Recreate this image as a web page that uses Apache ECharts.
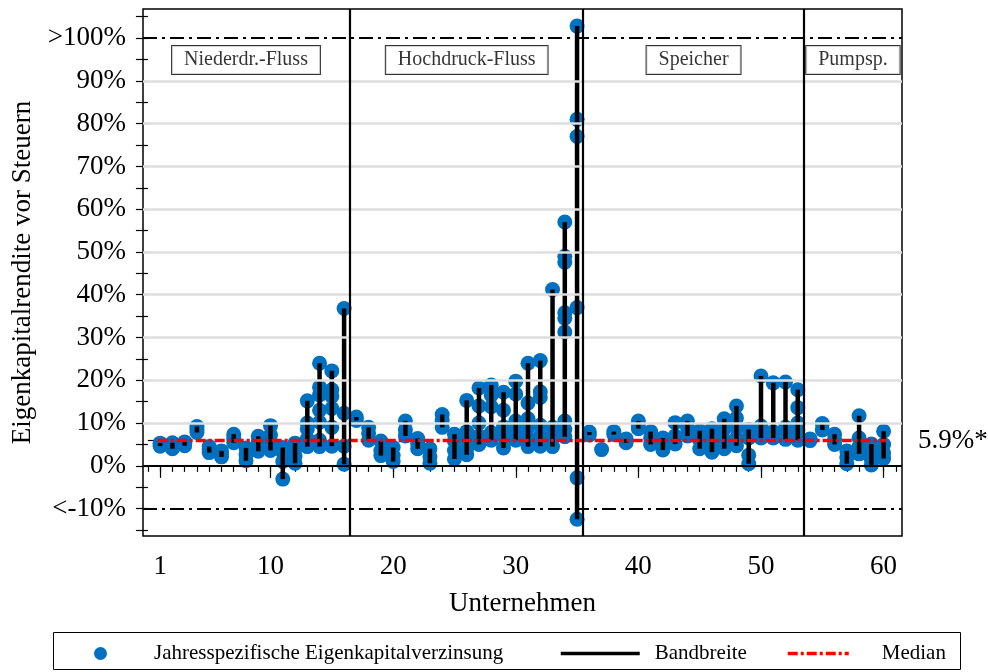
<!DOCTYPE html>
<html>
<head>
<meta charset="utf-8">
<script src="https://cdn.jsdelivr.net/npm/echarts@6/dist/echarts.min.js"></script>
<style>
  html, body { margin: 0; padding: 0; background: #fff; }
  #chart { width: 988px; height: 672px; }
</style>
</head>
<body>
<div id="chart"></div>
<script>
const FONT = '"Liberation Serif", "Times New Roman", serif';

// Yearly return on equity before tax (%) per company, company n = index + 1.
// Values outside the axis limits are given at the clipped position (>100% / <-10%).
const returns = [
  [4.6, 5.0, 5.3], [4.0, 4.7, 5.4], [4.7, 5.2, 5.6], [7.8, 8.5, 9.2], [3.1, 3.8, 4.5],
  [2.1, 2.8, 3.5], [5.4, 6.4, 7.4], [1.2, 2.6, 4.2], [3.4, 4.6, 5.8, 6.9], [3.6, 5.2, 7.2, 9.4],
  [-3.1, 1.0, 3.2, 4.3], [0.6, 2.3, 4.0, 5.3], [4.5, 6.3, 8.6, 10.0, 15.2],
  [4.5, 6.0, 10.2, 13.0, 16.6, 18.4, 24.0], [4.6, 9.0, 13.4, 16.2, 17.8, 22.2], [0.4, 4.6, 12.3, 36.8],
  [10.6, 11.4], [6.0, 7.6, 9.0], [2.4, 3.6, 5.8], [1.0, 2.4, 4.3],
  [7.0, 8.4, 10.5], [4.0, 5.2, 6.4], [0.6, 2.1, 4.0], [9.0, 10.6, 12.0], [1.6, 3.6, 5.8, 7.4],
  [2.6, 4.0, 6.6, 8.0, 15.3], [5.0, 7.0, 10.0, 14.0, 18.2], [6.0, 7.8, 13.8, 16.5, 18.9],
  [4.2, 7.0, 9.1, 13.0, 17.2], [6.0, 8.0, 10.5, 16.8, 19.8],
  [4.5, 6.5, 9.0, 11.0, 14.7, 24.0], [4.6, 7.0, 9.5, 16.0, 17.3, 24.6], [4.5, 7.0, 9.0, 41.2],
  [6.8, 8.5, 10.5, 31.3, 34.5, 35.8, 47.6, 49.0, 57.0], [-12.5, -2.8, 37.0, 77.0, 81.0, 102.8],
  [7.2, 7.9], [3.8], [7.3, 8.0], [5.4, 6.3], [8.7, 9.6, 10.5],
  [5.0, 6.5, 8.0], [3.7, 5.0, 6.5], [5.1, 7.0, 10.1], [7.0, 9.0, 10.5], [4.0, 6.0, 8.2],
  [3.2, 5.0, 7.0, 8.7], [4.0, 6.0, 8.6, 11.0], [4.7, 6.5, 9.0, 11.2, 14.0], [0.5, 2.5, 6.5, 8.5],
  [6.5, 8.0, 9.3, 21.0], [6.5, 8.0, 19.4], [6.2, 8.0, 9.0, 19.6], [6.0, 8.4, 10.0, 13.6, 17.8],
  [5.9, 6.3], [8.4, 9.9], [5.0, 6.2, 7.4], [0.5, 2.0, 3.5], [2.8, 4.5, 6.5, 11.7],
  [0.2, 1.5, 4.0, 5.1], [1.7, 3.0, 5.0, 8.1]
];

const groupNames = ['Niederdr.-Fluss', 'Hochdruck-Fluss', 'Speicher', 'Pumpsp.'];
const groupBounds = [16.5, 35.5, 53.5];
const groupCenters = [8, 26, 44.5, 57.5];
const GROUP_LABEL_Y = 94.9;
const MEDIAN = 5.9;
const medianSpan = [0.8, 60.2];

const xLabelTicks = [1, 10, 20, 30, 40, 50, 60];
const xMinorTicks = Array.from({ length: 62 }, (_, i) => i);
const yLabelTicks = [-10, 0, 10, 20, 30, 40, 50, 60, 70, 80, 90, 100];
const yMinorTicks = [-15, -10, -5, 0, 5, 10, 15, 20, 25, 30, 35, 40, 45, 50, 55, 60, 65, 70, 75, 80, 85, 90, 95, 100, 105];
const gridValues = [10, 20, 30, 40, 50, 60, 70, 80, 90];
const limitValues = [-10, 100];

const X_MIN = -0.4, X_MAX = 61.5;
const Y_MIN = -16.4, Y_MAX = 106.8;

const NAME_POINTS = 'Jahresspezifische Eigenkapitalverzinsung';
const DASH_DOT = [14, 5, 3, 5];
const RED_DASH = [10, 3, 3, 3];

// Build series data
const pointData = [];
const rangeData = [];
returns.forEach((vals, i) => {
  vals.forEach(v => pointData.push([i + 1, v]));
  rangeData.push([i + 1, Math.min(...vals), Math.max(...vals)]);
});

const refLines = [];
gridValues.forEach(v => refLines.push({ yAxis: v, lineStyle: { color: '#dedede', width: 2.5, type: 'solid' } }));
limitValues.forEach(v => refLines.push({ yAxis: v, lineStyle: { color: '#000', width: 2.2, type: DASH_DOT } }));
refLines.push({ yAxis: 0, lineStyle: { color: '#000', width: 2.2, type: 'solid' } });
groupBounds.forEach(v => refLines.push({ xAxis: v, lineStyle: { color: '#000', width: 2.2, type: 'solid' } }));

const axisText = { fontFamily: FONT, fontSize: 27, color: '#000' };
const legendText = { fontFamily: FONT, fontSize: 21, color: '#000' };

const chart = echarts.init(document.getElementById('chart'));
chart.setOption({
  animation: false,
  backgroundColor: '#fff',
  textStyle: { fontFamily: FONT },
  grid: {
    left: 143, right: 86, top: 9, bottom: 136,
    outerBoundsMode: 'none', containLabel: false,
    show: true, borderColor: '#000', borderWidth: 1.5, backgroundColor: 'transparent'
  },
  xAxis: [
    {
      type: 'value', min: X_MIN, max: X_MAX, position: 'bottom',
      name: 'Unternehmen', nameLocation: 'middle', nameGap: 54,
      nameTextStyle: axisText,
      axisLine: { show: false },
      axisTick: { show: true, customValues: xLabelTicks, length: 12, lineStyle: { color: '#000', width: 1.2 } },
      axisLabel: { customValues: xLabelTicks, margin: 17, ...axisText },
      splitLine: { show: false }
    },
    {
      type: 'value', min: X_MIN, max: X_MAX, position: 'bottom',
      axisLine: { show: false },
      axisTick: { show: true, customValues: xMinorTicks, length: 6, lineStyle: { color: '#000', width: 1.2 } },
      axisLabel: { show: false },
      splitLine: { show: false }
    }
  ],
  yAxis: [
    {
      type: 'value', min: Y_MIN, max: Y_MAX, position: 'left',
      name: 'Eigenkapitalrendite vor Steuern', nameLocation: 'middle', nameGap: 106,
      nameTextStyle: axisText,
      axisLine: { show: false },
      axisTick: { show: true, customValues: yMinorTicks, length: 12, lineStyle: { color: '#000', width: 1.2 } },
      axisLabel: {
        customValues: yLabelTicks, margin: 17, ...axisText,
        formatter: v => (v >= 100 ? '>100%' : v <= -10 ? '<-10%' : v + '%')
      },
      splitLine: { show: false }
    },
    {
      type: 'value', min: Y_MIN, max: Y_MAX, position: 'right',
      axisLine: { show: false },
      axisTick: { show: true, customValues: [MEDIAN], length: 10, lineStyle: { color: '#000', width: 1.2 } },
      axisLabel: { customValues: [MEDIAN], margin: 16, ...axisText, formatter: v => v.toFixed(1) + '%*' },
      splitLine: { show: false }
    }
  ],
  legend: [
    {
      data: [{ name: NAME_POINTS, icon: 'circle' }],
      left: 94, top: 643, padding: 0, itemWidth: 13, itemHeight: 13,
      textStyle: { ...legendText, padding: [0, 0, 0, 42] }
    },
    {
      data: ['Bandbreite'],
      left: 559, top: 643, padding: 0, itemWidth: 79, itemHeight: 13,
      lineStyle: { width: 3.5 }, itemStyle: { opacity: 0 },
      textStyle: { ...legendText, padding: [0, 0, 0, 10] }
    },
    {
      data: ['Median'],
      left: 786, top: 643, padding: 0, itemWidth: 61, itemHeight: 13,
      lineStyle: { width: 3.5 }, itemStyle: { opacity: 0 },
      textStyle: { ...legendText, padding: [0, 0, 0, 28] }
    }
  ],
  graphic: [
    {
      type: 'rect', left: 51, top: 630, z: 100,
      shape: { width: 907, height: 37 },
      style: { fill: 'none', stroke: '#000', lineWidth: 1 }
    }
  ],
  series: [
    {
      // reference lines (grid, limits, zero line, group separators)
      name: 'ref', type: 'line', data: [], z: 1, silent: true,
      markLine: { silent: true, symbol: ['none', 'none'], label: { show: false }, data: refLines }
    },
    {
      name: NAME_POINTS, type: 'scatter', z: 2,
      symbol: 'circle', symbolSize: 15,
      itemStyle: { color: '#0070c0', opacity: 1 },
      data: pointData
    },
    {
      name: 'range', type: 'custom', z: 3, silent: true,
      renderItem: (params, api) => {
        const x = api.value(0);
        const lo = api.coord([x, api.value(1)]);
        const hi = api.coord([x, api.value(2)]);
        return {
          type: 'line',
          shape: { x1: lo[0], y1: lo[1], x2: hi[0], y2: hi[1] },
          style: { stroke: '#000', lineWidth: 4.5 }
        };
      },
      data: rangeData
    },
    {
      name: 'Bandbreite', type: 'line', data: [], symbol: 'none',
      lineStyle: { color: '#000', width: 3.5 }, itemStyle: { color: '#000' }
    },
    {
      name: 'Median', type: 'line', z: 4, symbol: 'none',
      lineStyle: { color: '#ff0000', width: 3.5, type: RED_DASH },
      itemStyle: { color: '#ff0000' },
      data: medianSpan.map(x => [x, MEDIAN])
    },
    {
      name: 'groups', type: 'scatter', z: 5, silent: true,
      symbolSize: 1, itemStyle: { color: 'rgba(0,0,0,0)' },
      label: {
        show: true, position: 'inside', formatter: p => p.name,
        fontFamily: FONT, fontSize: 20, color: '#000',
        backgroundColor: '#fff', borderColor: '#000', borderWidth: 1,
        padding: [4, 12, 4, 12]
      },
      data: groupCenters.map((c, i) => ({ name: groupNames[i], value: [c, GROUP_LABEL_Y] }))
    }
  ]
});
</script>
</body>
</html>
